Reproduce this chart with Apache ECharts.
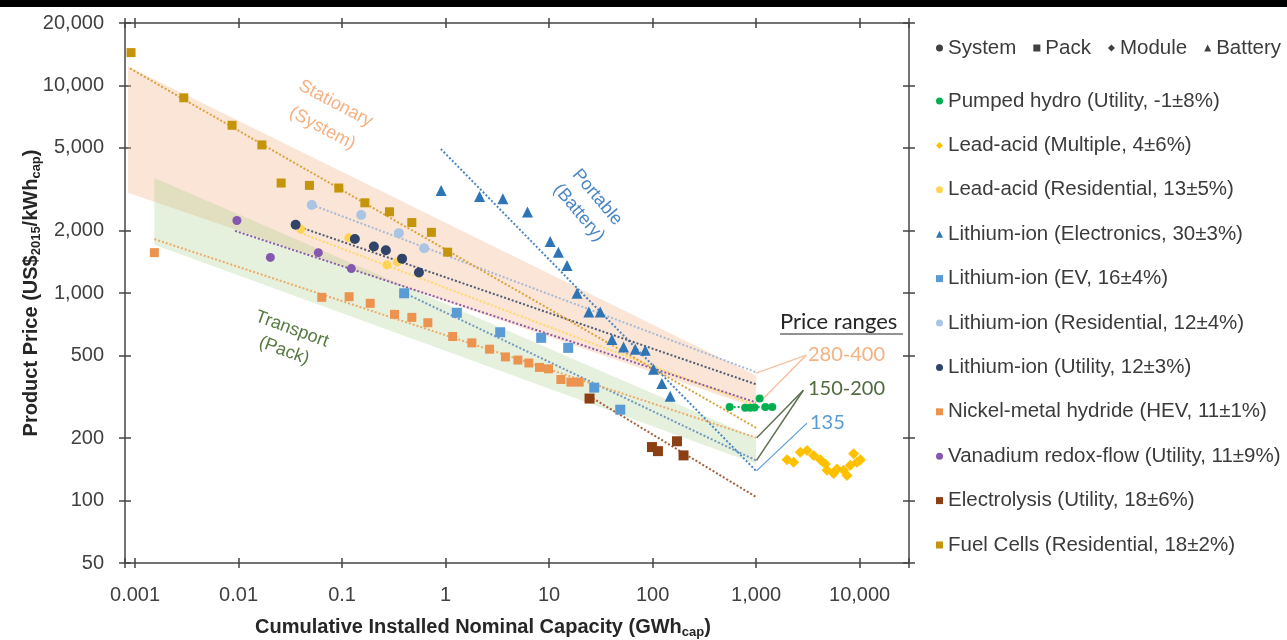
<!DOCTYPE html>
<html>
<head>
<meta charset="utf-8">
<title>Product price vs cumulative installed capacity</title>
<script src="https://cdn.jsdelivr.net/npm/echarts@6/dist/echarts.min.js"></script>
<style>
html, body { margin: 0; padding: 0; background: #fff; }
#chart { width: 1287px; height: 640px; }
</style>
</head>
<body>
<div id="chart"></div>
<script>
// ticks: capacity in GWh, price in US$2015/kWh
var xTickValues = [0.001, 0.01, 0.1, 1, 10, 100, 1000, 10000];
var yTickValues = [50, 100, 200, 500, 1000, 2000, 5000, 10000, 20000];
var xRange = [0.0008, 30000];
var yRange = [50, 20000];

// observations [capacity, price]
var pumpedHydro = [[555, 282], [785, 280], [877, 280], [966, 281], [1081, 310], [1227, 282], [1433, 282]];
var leadAcidMultiple = [[1988, 157], [2302, 153], [2673, 171], [3103, 174], [3594, 165], [4173, 157], [4663, 150], [4842, 140],
  [5609, 135], [6049, 142], [7006, 140], [7555, 132], [8131, 148], [8752, 168], [9441, 153], [10160, 157]];
var leadAcidResidential = [[0.0398, 2032], [0.116, 1844], [0.271, 1366], [0.343, 1412]];
var liIonElectronics = [[0.906, 3120], [2.13, 2919], [3.58, 2845], [6.19, 2454], [10.25, 1769], [12.3, 1573], [14.9, 1355],
  [18.6, 997], [24.2, 809], [31.2, 809], [40.5, 597], [52.4, 550], [68, 536], [85, 530], [102, 429], [123, 366], [148, 318]];
var liIonEV = [[0.398, 997], [1.285, 803], [3.37, 647], [8.39, 608], [15.3, 544], [27.3, 350], [48.7, 274]];
var liIonResidential = [[0.051, 2653], [0.153, 2374], [0.354, 1943], [0.621, 1644]];
var liIonUtility = [[0.0356, 2131], [0.133, 1819], [0.203, 1674], [0.265, 1608], [0.38, 1464], [0.553, 1256]];
var nimh = [[0.001537, 1565], [0.0637, 953], [0.117, 960], [0.187, 892], [0.321, 789], [0.472, 763], [0.674, 719], [1.171, 617],
  [1.795, 575], [2.66, 536], [3.79, 492], [5.0, 475], [6.38, 460], [8.08, 438], [9.87, 431], [13.0, 383], [16.25, 372], [19.55, 372]];
var vanadium = [[0.00964, 2235], [0.0203, 1484], [0.059, 1565], [0.123, 1311]];
var electrolysis = [[24.6, 310], [98.6, 181], [112.6, 173], [172, 193], [199, 165]];
var fuelCells = [[0.000915, 14400], [0.00296, 8720], [0.00866, 6430], [0.0168, 5170], [0.0258, 3388], [0.0484, 3300], [0.093, 3205],
  [0.166, 2721], [0.287, 2462], [0.472, 2185], [0.73, 1960], [1.048, 1573]];

// experience curves, [start, end]
var pumpedHydroTrend = [[555, 282], [1433, 282]];
var leadAcidResidentialTrend = [[0.0394, 1950], [1000, 288]];
var liIonElectronicsTrend = [[0.9, 4945], [1000, 139]];
var liIonEVTrend = [[0.364, 1023], [1000, 156]];
var liIonResidentialTrend = [[0.051, 2660], [1000, 415]];
var liIonUtilityTrend = [[0.036, 2107], [1000, 363]];
var nimhTrend = [[0.001537, 1817], [1000, 201]];
var vanadiumTrend = [[0.00926, 1993], [1000, 297]];
var electrolysisTrend = [[24.5, 318], [1000, 104]];
var fuelCellsTrend = [[0.000895, 12080], [1000, 224]];

// shaded application ranges
var stationaryBand = [[0.000856, 12350], [1000, 400], [1000, 280], [0.000856, 3040]];
var transportBand = [[0.001535, 3580], [1000, 200], [1000, 150], [0.001535, 1706]];

// leader lines to the price range labels
var range280Lines = [[[1000, 411], [3055, 502]], [[1100, 300], [3055, 502]]];
var range150Lines = [[[1010, 200], [2858, 340]], [[1010, 156], [2858, 340]]];
var range135Lines = [[[1010, 139], [3102, 236]]];

var productTypes = ['System', 'Pack', 'Module', 'Battery'];

var techs = [
  { name: 'Pumped hydro (Utility, -1±8%)', pts: pumpedHydro, trend: pumpedHydroTrend, symbol: 'circle', size: 8, color: '#00b050', line: '#00b050' },
  { name: 'Lead-acid (Multiple, 4±6%)', pts: leadAcidMultiple, trend: null, symbol: 'diamond', size: 11, color: '#ffc000', line: '#ffc000' },
  { name: 'Lead-acid (Residential, 13±5%)', pts: leadAcidResidential, trend: leadAcidResidentialTrend, symbol: 'circle', size: 9, color: '#ffd454', line: '#ffd966' },
  { name: 'Lithium-ion (Electronics, 30±3%)', pts: liIonElectronics, trend: liIonElectronicsTrend, symbol: 'triangle', size: 11, color: '#2e75b6', line: '#4a86c4' },
  { name: 'Lithium-ion (EV, 16±4%)', pts: liIonEV, trend: liIonEVTrend, symbol: 'rect', size: 10, color: '#5b9bd5', line: '#6f97bf' },
  { name: 'Lithium-ion (Residential, 12±4%)', pts: liIonResidential, trend: liIonResidentialTrend, symbol: 'circle', size: 10, color: '#a9c4e4', line: '#a7b9d6' },
  { name: 'Lithium-ion (Utility, 12±3%)', pts: liIonUtility, trend: liIonUtilityTrend, symbol: 'circle', size: 10, color: '#2f4468', line: '#4d5a73' },
  { name: 'Nickel-metal hydride (HEV, 11±1%)', pts: nimh, trend: nimhTrend, symbol: 'rect', size: 9, color: '#ed9350', line: '#eeaa66' },
  { name: 'Vanadium redox-flow (Utility, 11±9%)', pts: vanadium, trend: vanadiumTrend, symbol: 'circle', size: 9, color: '#8558b0', line: '#8a5aa8' },
  { name: 'Electrolysis (Utility, 18±6%)', pts: electrolysis, trend: electrolysisTrend, symbol: 'rect', size: 10, color: '#8b3f12', line: '#a2603a' },
  { name: 'Fuel Cells (Residential, 18±2%)', pts: fuelCells, trend: fuelCellsTrend, symbol: 'rect', size: 9, color: '#c4950a', line: '#dca23a' }
];
var typeSymbols = ['circle', 'rect', 'diamond', 'triangle'];

var FONT = '"Liberation Sans", Arial, sans-serif';
var lg = Math.log10;
function toXY(p) { return [lg(p[0]), lg(p[1])]; }
function fmt(v) {
  var n = parseFloat(Math.pow(10, v).toPrecision(4));
  return n >= 1000 ? n.toLocaleString('en-US') : String(n);
}

var xMin = lg(xRange[0]), xMax = lg(xRange[1]);
var yMin = lg(yRange[0]), yMax = lg(yRange[1]);
var xTicks = xTickValues.map(lg);
var yTicks = yTickValues.map(lg);
var xTickMarks = [xMin].concat(xTicks, [xMax]);

var axisColor = '#444';
function xAxisDef(grid, pos, inside, withLabel) {
  var a = {
    type: 'value', gridIndex: grid, position: pos, min: xMin, max: xMax,
    axisLine: { show: !inside, onZero: false, lineStyle: { color: axisColor, width: 1.5 } },
    axisTick: { show: true, inside: inside, length: 5, customValues: xTickMarks, lineStyle: { color: axisColor, width: 1.5 } },
    axisLabel: { show: withLabel, customValues: xTicks, formatter: fmt, fontSize: 20, color: '#404040', fontFamily: FONT, margin: 22 },
    splitLine: { show: false }
  };
  if (withLabel) {
    a.name = 'Cumulative Installed Nominal Capacity (GWh{sub|cap})';
    a.nameLocation = 'middle';
    a.nameGap = 53;
    a.nameMoveOverlap = false;
    a.nameTextStyle = {
      fontSize: 20, fontWeight: 'bold', color: '#262626', fontFamily: FONT, padding: [0, 68, 0, 0],
      rich: { sub: { fontSize: 13, fontWeight: 'bold', color: '#262626', fontFamily: FONT, padding: [10, 0, 0, 0] } }
    };
  }
  return a;
}
function yAxisDef(grid, pos, inside, withLabel) {
  var a = {
    type: 'value', gridIndex: grid, position: pos, min: yMin, max: yMax,
    axisLine: { show: !inside, onZero: false, lineStyle: { color: axisColor, width: 1.5 } },
    axisTick: { show: true, inside: inside, length: 6, customValues: yTicks, lineStyle: { color: axisColor, width: 1.5 } },
    axisLabel: { show: withLabel, customValues: yTicks, formatter: fmt, fontSize: 20, color: '#404040', fontFamily: FONT, margin: 21 },
    splitLine: { show: false }
  };
  if (withLabel) {
    a.name = 'Product Price (US${sub|2015}/kWh{sub|cap})';
    a.nameLocation = 'middle';
    a.nameGap = 82;
    a.nameMoveOverlap = false;
    a.nameTextStyle = {
      fontSize: 20, fontWeight: 'bold', color: '#262626', fontFamily: FONT,
      rich: { sub: { fontSize: 13, fontWeight: 'bold', color: '#262626', fontFamily: FONT, padding: [10, 0, 0, 0] } }
    };
  }
  return a;
}

function bandSeries(band, color) {
  return {
    type: 'custom', xAxisIndex: 0, yAxisIndex: 0, silent: true, z: 1, data: [0],
    renderItem: function (params, api) {
      return {
        type: 'polygon',
        shape: { points: band.map(function (p) { return api.coord(toXY(p)); }) },
        style: { fill: color }
      };
    }
  };
}
function lineSeries(pts, color, style, width, z) {
  return {
    type: 'line', xAxisIndex: 0, yAxisIndex: 0, data: pts.map(toXY), symbol: 'none', silent: true, z: z,
    lineStyle: { color: color, type: style, width: width }
  };
}

var series = [
  bandSeries(stationaryBand, 'rgba(244, 177, 131, 0.33)'),
  bandSeries(transportBand, 'rgba(169, 209, 142, 0.3)')
];
range280Lines.forEach(function (l) { series.push(lineSeries(l, '#f6c3a2', 'solid', 1.5, 2)); });
range150Lines.forEach(function (l) { series.push(lineSeries(l, '#5f7152', 'solid', 1.5, 2)); });
range135Lines.forEach(function (l) { series.push(lineSeries(l, '#5b9bd5', 'solid', 1.2, 2)); });
techs.forEach(function (t) {
  if (t.trend) series.push(lineSeries(t.trend, t.line, 'dotted', 2, 3));
});
techs.forEach(function (t) {
  series.push({
    type: 'scatter', name: t.name, xAxisIndex: 0, yAxisIndex: 0, data: t.pts.map(toXY),
    symbol: t.symbol, symbolSize: t.size, itemStyle: { color: t.color, opacity: 1 }, z: 5
  });
});
productTypes.forEach(function (n, i) {
  series.push({ type: 'scatter', name: n, data: [], symbol: typeSymbols[i], itemStyle: { color: '#111' } });
});

var legendText = { fontSize: 20.5, color: '#3b3b3b', fontFamily: FONT, lineHeight: 21 };

var chart = echarts.init(document.getElementById('chart'));
chart.setOption({
  animation: false,
  backgroundColor: '#fff',
  grid: [
    { left: 125, right: 378, top: 23, bottom: 77, outerBoundsMode: 'none' },
    { left: 125, right: 378, top: 23, bottom: 77, outerBoundsMode: 'none' }
  ],
  xAxis: [xAxisDef(0, 'bottom', false, true), xAxisDef(0, 'top', false, false),
          xAxisDef(1, 'bottom', true, false), xAxisDef(1, 'top', true, false)],
  yAxis: [yAxisDef(0, 'left', false, true), yAxisDef(0, 'right', false, false),
          yAxisDef(1, 'left', true, false), yAxisDef(1, 'right', true, false)],
  legend: [
    { data: productTypes, orient: 'horizontal', left: 936, top: 37.5, padding: 0, itemWidth: 7, itemHeight: 7,
      itemGap: 17, selectedMode: false, textStyle: legendText },
    { data: techs.map(function (t) { return t.name; }), orient: 'vertical', left: 936, top: 90.5, padding: 0,
      itemWidth: 7, itemHeight: 7, itemGap: 23.4, selectedMode: false, textStyle: legendText }
  ],
  graphic: [
    { type: 'rect', shape: { x: 0, y: 0, width: 1287, height: 7 }, style: { fill: '#000' }, silent: true },
    { type: 'text', x: 329, y: 116, rotation: -0.49, silent: true,
      style: { text: 'Stationary\n(System)', fill: '#f4b183', fontSize: 18, fontFamily: FONT, align: 'center', verticalAlign: 'middle', lineHeight: 28 } },
    { type: 'text', x: 588, y: 205, rotation: -0.87, silent: true,
      style: { text: 'Portable\n(Battery)', fill: '#4a86c4', fontSize: 18, fontFamily: FONT, align: 'center', verticalAlign: 'middle', lineHeight: 24 } },
    { type: 'text', x: 288, y: 340, rotation: -0.35, silent: true,
      style: { text: 'Transport\n(Pack)', fill: '#557a3f', fontSize: 18, fontFamily: FONT, align: 'center', verticalAlign: 'middle', lineHeight: 23 } },
    { type: 'text', x: 780, y: 322, silent: true,
      style: { text: 'Price ranges', fill: '#262626', fontSize: 22, fontFamily: 'Lato, sans-serif', verticalAlign: 'middle' } },
    { type: 'line', shape: { x1: 780, y1: 334, x2: 903, y2: 334 }, style: { stroke: '#262626', lineWidth: 1.2 }, silent: true },
    { type: 'text', x: 808, y: 355, silent: true,
      style: { text: '280-400', fill: '#f4b183', fontSize: 20, fontFamily: 'Lato, sans-serif', verticalAlign: 'middle' } },
    { type: 'text', x: 808, y: 389, silent: true,
      style: { text: '150-200', fill: '#4f6b3c', fontSize: 20, fontFamily: 'Lato, sans-serif', verticalAlign: 'middle' } },
    { type: 'text', x: 810, y: 423, silent: true,
      style: { text: '135', fill: '#5b9bd5', fontSize: 20, fontFamily: 'Lato, sans-serif', verticalAlign: 'middle' } }
  ],
  series: series
});
</script>
</body>
</html>
